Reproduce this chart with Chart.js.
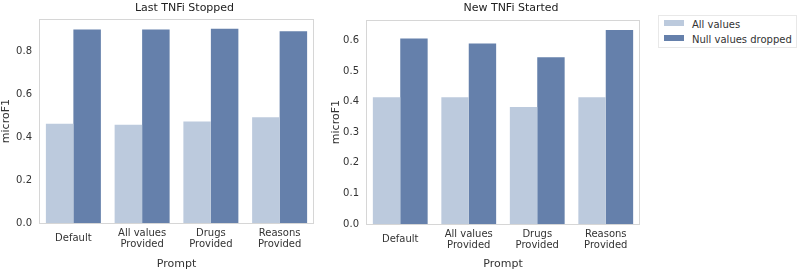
<!DOCTYPE html>
<html>
<head>
<meta charset="utf-8">
<script src="https://cdn.jsdelivr.net/npm/chart.js@4"></script>
<style>
  body { margin: 0; background: #fff; width: 800px; height: 277px; position: relative; overflow: hidden; }
  .box { position: absolute; top: 0; }
  #leyenda { position: absolute; left: 658px; top: 15px; width: 137px; height: 31px; border: 1px solid #e8e8e8;
             font-family: "DejaVu Sans", sans-serif; font-size: 10px; color: #333; }
  .item { position: absolute; left: 5px; height: 12px; line-height: 12px; }
  .sw { display: inline-block; width: 20px; height: 6px; margin-right: 8px; vertical-align: 2px; }
</style>
</head>
<body>
<div class="box" style="left:0px"><canvas id="grafica1" width="320" height="277"></canvas></div>
<div class="box" style="left:330px"><canvas id="grafica2" width="316" height="277"></canvas></div>
<div id="leyenda"></div>

<script>
// datos
let categorias = ["Default", ["All values", "Provided"], ["Drugs", "Provided"], ["Reasons", "Provided"]]
let series = ["All values", "Null values dropped"]
let colores = ["#bccadd", "#6580ab"]

let paradoTodos = [0.463, 0.458, 0.474, 0.494]
let paradoSinNulos = [0.903, 0.903, 0.906, 0.895]
let paradoTicks = [0.0, 0.2, 0.4, 0.6, 0.8]
let paradoMax = 0.951

let iniciadoTodos = [0.414, 0.414, 0.382, 0.414]
let iniciadoSinNulos = [0.606, 0.590, 0.545, 0.634]
let iniciadoTicks = [0.0, 0.1, 0.2, 0.3, 0.4, 0.5, 0.6]
let iniciadoMax = 0.666

Chart.defaults.font.family = "'DejaVu Sans', sans-serif"
Chart.defaults.color = "#333"

// marco gris alrededor del area de la grafica
let marco = {
    id: "marco",
    afterLayout(chart) {
        // el titulo queda un poco a la derecha del centro en el original
        if (chart.titleBlock) chart.titleBlock.left += 16
    },
    beforeDatasetsDraw(chart) {
        let a = chart.chartArea
        let ctx = chart.ctx
        ctx.save()
        ctx.strokeStyle = "#d6d6d6"
        ctx.lineWidth = 1
        ctx.strokeRect(Math.round(a.left) + 0.5, Math.round(a.top) + 0.5, Math.round(a.right - a.left) - 1, Math.round(a.bottom - a.top))
        ctx.restore()
    }
}

function crearGrafica(id, titulo, todos, sinNulos, ticks, maximo, anchoY, altoX, tituloAbajo) {
    let miCanvas = document.getElementById(id).getContext("2d")
    return new Chart(miCanvas, {
        type: "bar",
        data: {
            labels: categorias,
            datasets: [
                { label: series[0], backgroundColor: colores[0], data: todos, categoryPercentage: 0.8, barPercentage: 1.0 },
                { label: series[1], backgroundColor: colores[1], data: sinNulos, categoryPercentage: 0.8, barPercentage: 1.0 }
            ]
        },
        options: {
            responsive: false,
            animation: false,
            devicePixelRatio: 1,
            layout: { padding: { left: 0, right: 6, top: 0, bottom: 0 } },
            plugins: {
                legend: { display: false },
                tooltip: { enabled: false },
                title: {
                    display: true,
                    fullSize: false,
                    text: titulo,
                    color: "#222",
                    font: { size: 11, weight: "normal" },
                    padding: { top: 2, bottom: tituloAbajo }
                }
            },
            scales: {
                x: {
                    grid: { display: false, drawTicks: false },
                    border: { display: false },
                    ticks: { font: { size: 10, lineHeight: 1.1 }, padding: 10, maxRotation: 0, autoSkip: false, crossAlign: "center" },
                    title: { display: true, text: "Prompt", font: { size: 11 }, padding: { top: 0, bottom: 6 } },
                    afterFit(scale) { scale.height = altoX }
                },
                y: {
                    min: 0,
                    max: maximo,
                    grid: { display: false, drawTicks: false },
                    border: { display: false },
                    ticks: { font: { size: 10 }, padding: 7, callback: v => v.toFixed(1) },
                    afterBuildTicks(scale) { scale.ticks = ticks.map(v => ({ value: v })) },
                    title: { display: true, text: "microF1", font: { size: 11 }, padding: 0 },
                    afterFit(scale) { scale.width = anchoY }
                }
            }
        },
        plugins: [marco]
    })
}

let chart1 = crearGrafica("grafica1", "Last TNFi Stopped", paradoTodos, paradoSinNulos, paradoTicks, paradoMax, 39, 54, 4)
let chart2 = crearGrafica("grafica2", "New TNFi Started", iniciadoTodos, iniciadoSinNulos, iniciadoTicks, iniciadoMax, 36, 53, 5)

// leyenda en html
let leyenda = document.getElementById("leyenda")
series.forEach((s, i) => {
    let d = document.createElement("div")
    d.className = "item"
    d.style.top = (3 + i * 15) + "px"
    d.innerHTML = '<span class="sw" style="background:' + colores[i] + '"></span>' + s
    leyenda.appendChild(d)
})
</script>
</body>
</html>
